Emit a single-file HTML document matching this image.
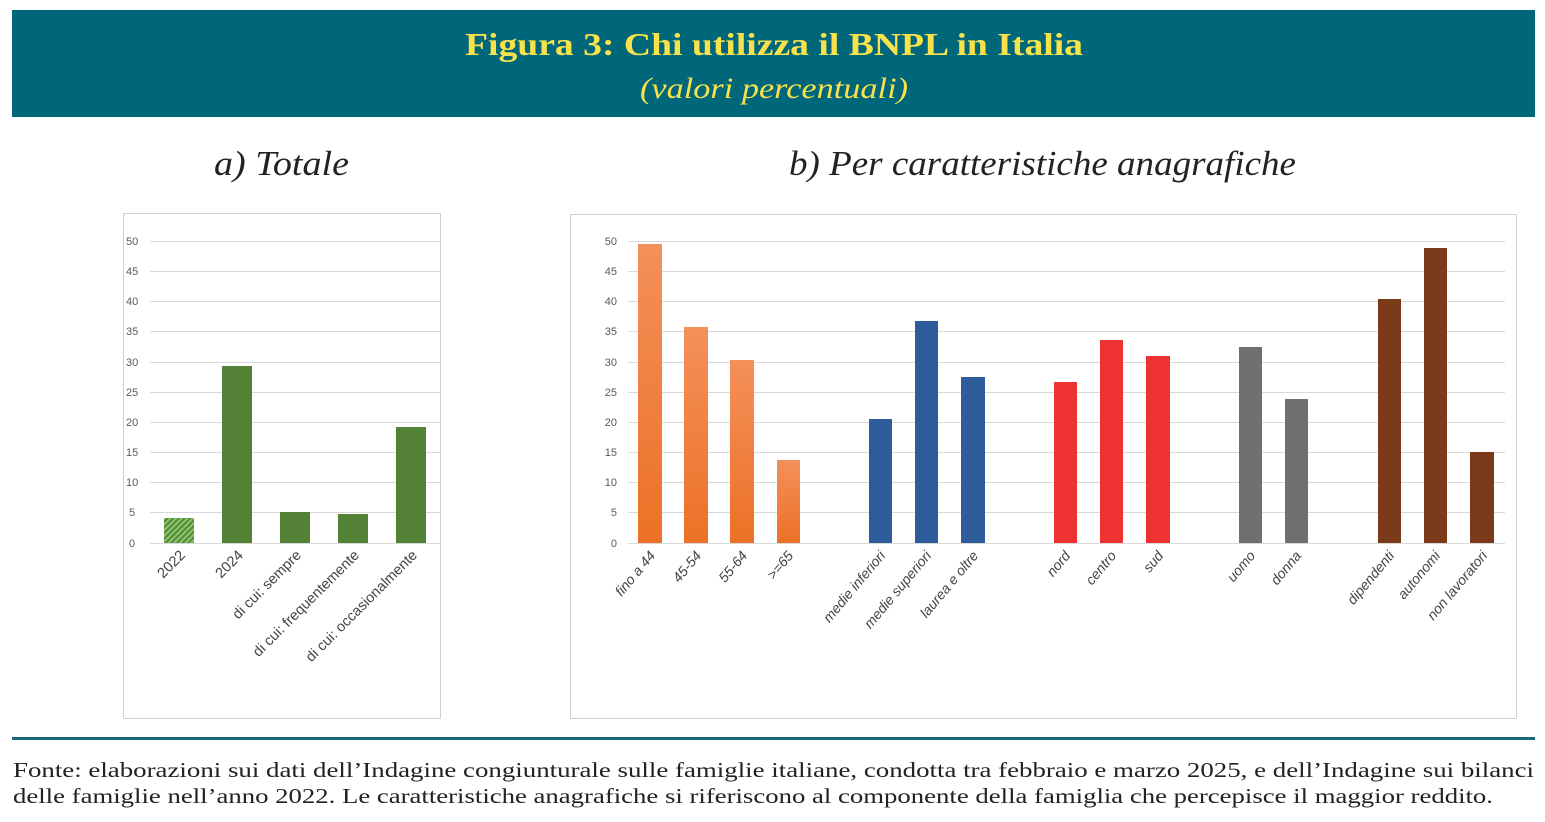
<!DOCTYPE html>
<html><head><meta charset="utf-8"><style>body{margin:0;background:#fff}svg{display:block}</style></head><body>
<svg width="1545" height="822" xmlns="http://www.w3.org/2000/svg">
<defs>
<linearGradient id="og" x1="0" y1="0" x2="0" y2="1"><stop offset="0" stop-color="#f4905a"/><stop offset="1" stop-color="#ec7126"/></linearGradient>
<pattern id="hatch" width="4" height="4" patternUnits="userSpaceOnUse" patternTransform="rotate(45)"><rect width="4" height="4" fill="#8fc46a"/><rect width="2" height="4" fill="#4e8b3a"/></pattern>
</defs>
<rect x="12" y="10" width="1523" height="107" fill="#00667a"/>
<text x="465" y="55" textLength="618" lengthAdjust="spacingAndGlyphs" font-family="Liberation Serif,serif" font-weight="bold" font-size="32" fill="#f7e24b">Figura 3: Chi utilizza il BNPL in Italia</text>
<text x="640" y="98" textLength="268" lengthAdjust="spacingAndGlyphs" font-family="Liberation Serif,serif" font-style="italic" font-size="30" fill="#f7e24b">(valori percentuali)</text>
<text x="214" y="175" textLength="135" lengthAdjust="spacingAndGlyphs" font-family="Liberation Serif,serif" font-style="italic" font-size="35" fill="#222">a) Totale</text>
<text x="789" y="175" textLength="507" lengthAdjust="spacingAndGlyphs" font-family="Liberation Serif,serif" font-style="italic" font-size="35" fill="#222">b) Per caratteristiche anagrafiche</text>

<rect x="123.5" y="213.5" width="317" height="505" fill="#fff" stroke="#d0d0d0"/>
<rect x="570.5" y="214.5" width="946" height="504" fill="#fff" stroke="#d0d0d0"/>
<g stroke="#d9d9d9" stroke-width="1">
<line x1="150" x2="440" y1="241.5" y2="241.5"/><line x1="150" x2="440" y1="271.5" y2="271.5"/><line x1="150" x2="440" y1="301.5" y2="301.5"/><line x1="150" x2="440" y1="331.5" y2="331.5"/><line x1="150" x2="440" y1="362.5" y2="362.5"/><line x1="150" x2="440" y1="392.5" y2="392.5"/><line x1="150" x2="440" y1="422.5" y2="422.5"/><line x1="150" x2="440" y1="452.5" y2="452.5"/><line x1="150" x2="440" y1="482.5" y2="482.5"/><line x1="150" x2="440" y1="512.5" y2="512.5"/><line x1="150" x2="440" y1="543.5" y2="543.5"/>
<line x1="628" x2="1505" y1="241.5" y2="241.5"/><line x1="628" x2="1505" y1="271.5" y2="271.5"/><line x1="628" x2="1505" y1="301.5" y2="301.5"/><line x1="628" x2="1505" y1="331.5" y2="331.5"/><line x1="628" x2="1505" y1="362.5" y2="362.5"/><line x1="628" x2="1505" y1="392.5" y2="392.5"/><line x1="628" x2="1505" y1="422.5" y2="422.5"/><line x1="628" x2="1505" y1="452.5" y2="452.5"/><line x1="628" x2="1505" y1="482.5" y2="482.5"/><line x1="628" x2="1505" y1="512.5" y2="512.5"/><line x1="628" x2="1505" y1="543.5" y2="543.5"/>
</g>
<g font-family="Liberation Sans,sans-serif" font-size="11" fill="#595959">
<text x="126" y="245">50</text><text x="126" y="275">45</text><text x="126" y="305">40</text><text x="126" y="335">35</text><text x="126" y="366">30</text><text x="126" y="396">25</text><text x="126" y="426">20</text><text x="126" y="456">15</text><text x="126" y="486">10</text><text x="129" y="516">5</text><text x="129" y="547">0</text>
<g text-anchor="end"><text x="617" y="245">50</text><text x="617" y="275">45</text><text x="617" y="305">40</text><text x="617" y="335">35</text><text x="617" y="366">30</text><text x="617" y="396">25</text><text x="617" y="426">20</text><text x="617" y="456">15</text><text x="617" y="486">10</text><text x="617" y="516">5</text><text x="617" y="547">0</text></g>
</g>
<rect x="164" y="518" width="30" height="25" fill="url(#hatch)"/>
<g fill="#538135">
<rect x="222" y="366" width="30" height="177"/><rect x="280" y="512" width="30" height="31"/><rect x="338" y="514" width="30" height="29"/><rect x="396" y="427" width="30" height="116"/>
</g>
<g font-family="Liberation Sans,sans-serif" font-size="14.5" fill="#444" text-anchor="end">
<text transform="translate(186,556) rotate(-45)">2022</text>
<text transform="translate(244,556) rotate(-45)">2024</text>
<text transform="translate(302,556) rotate(-45)">di cui: sempre</text>
<text transform="translate(360,556) rotate(-45)">di cui: frequentemente</text>
<text transform="translate(418,556) rotate(-45)">di cui: occasionalmente</text>
</g>
<g fill="url(#og)">
<rect x="638" y="244" width="24" height="299"/><rect x="684" y="327" width="24" height="216"/><rect x="730" y="360" width="24" height="183"/><rect x="777" y="460" width="23" height="83"/>
</g>
<g fill="#2e5c9a"><rect x="869" y="419" width="23" height="124"/><rect x="915" y="321" width="23" height="222"/><rect x="961" y="377" width="24" height="166"/></g>
<g fill="#ee3131"><rect x="1054" y="382" width="23" height="161"/><rect x="1100" y="340" width="23" height="203"/><rect x="1146" y="356" width="24" height="187"/></g>
<g fill="#6f6f6f"><rect x="1239" y="347" width="23" height="196"/><rect x="1285" y="399" width="23" height="144"/></g>
<g fill="#7b3b1b"><rect x="1378" y="299" width="23" height="244"/><rect x="1424" y="248" width="23" height="295"/><rect x="1470" y="452" width="24" height="91"/></g>
<g font-family="Liberation Sans,sans-serif" font-size="14" font-style="italic" fill="#444" text-anchor="end">
<text transform="translate(656,556) rotate(-50)">fino a 44</text>
<text transform="translate(702,556) rotate(-50)">45-54</text>
<text transform="translate(748,556) rotate(-50)">55-64</text>
<text transform="translate(794,556) rotate(-50)">&gt;=65</text>
<text transform="translate(886,556) rotate(-50)">medie inferiori</text>
<text transform="translate(932,556) rotate(-50)">medie superiori</text>
<text transform="translate(979,556) rotate(-50)">laurea e oltre</text>
<text transform="translate(1071,556) rotate(-50)">nord</text>
<text transform="translate(1117,556) rotate(-50)">centro</text>
<text transform="translate(1164,556) rotate(-50)">sud</text>
<text transform="translate(1256,556) rotate(-50)">uomo</text>
<text transform="translate(1302,556) rotate(-50)">donna</text>
<text transform="translate(1395,556) rotate(-50)">dipendenti</text>
<text transform="translate(1441,556) rotate(-50)">autonomi</text>
<text transform="translate(1488,556) rotate(-50)">non lavoratori</text>
</g>
<rect x="12" y="737" width="1523" height="3" fill="#1b6878"/>
<g font-family="Liberation Serif,serif" font-size="21" fill="#222">
<text x="13" y="777" textLength="1521" lengthAdjust="spacingAndGlyphs">Fonte: elaborazioni sui dati dell’Indagine congiunturale sulle famiglie italiane, condotta tra febbraio e marzo 2025, e dell’Indagine sui bilanci</text>
<text x="13" y="803" textLength="1480" lengthAdjust="spacingAndGlyphs">delle famiglie nell’anno 2022. Le caratteristiche anagrafiche si riferiscono al componente della famiglia che percepisce il maggior reddito.</text>
</g>
</svg>
</body></html>
